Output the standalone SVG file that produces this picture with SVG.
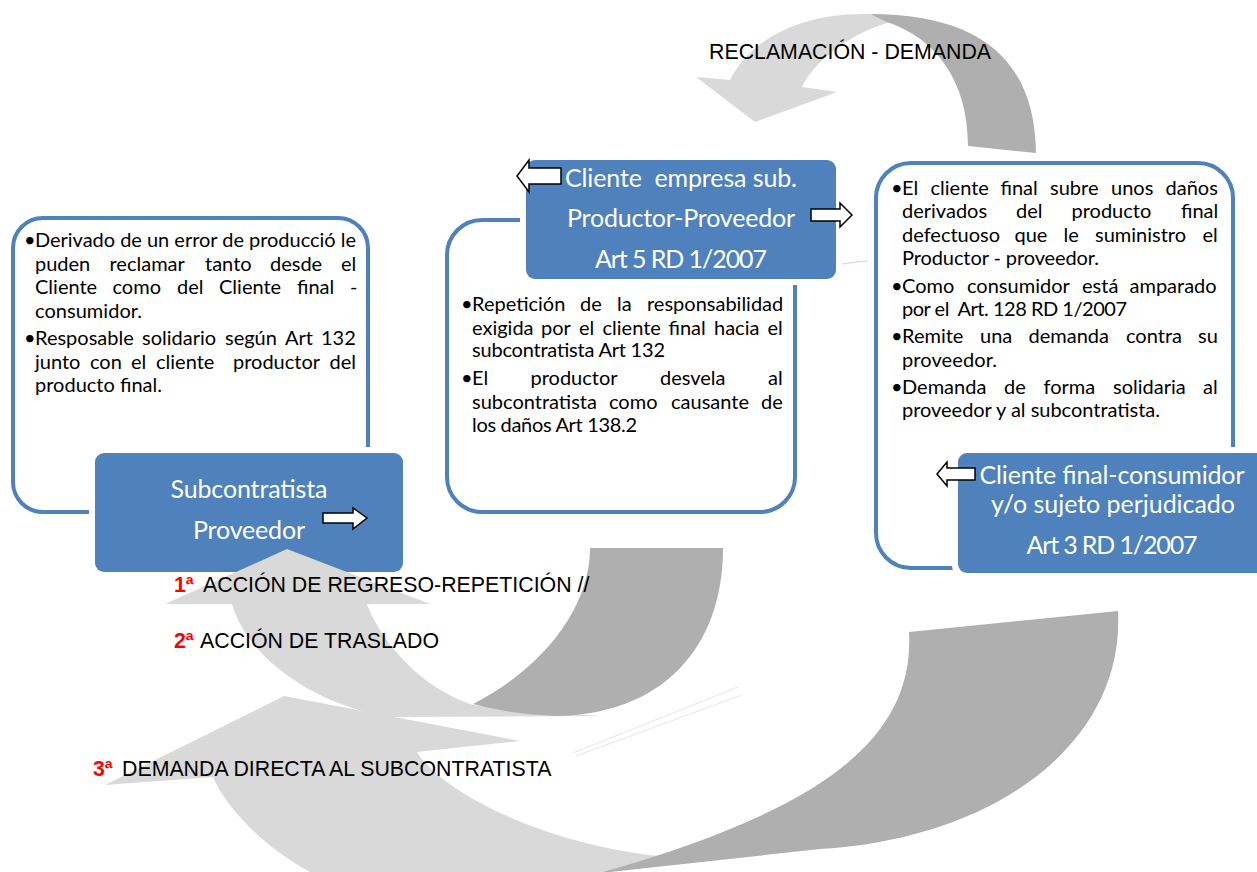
<svg xmlns="http://www.w3.org/2000/svg" width="1257" height="872" viewBox="0 0 1257 872">
<style>
.outline{fill:#fff;stroke:#4F81BD;stroke-width:4}
.fill{fill:#4F81BD}
.gap{fill:#fff}
.b{font-family:Lato,"Open Sans",sans-serif;font-size:20px;fill:#000}
.t{font-family:Lato,"Open Sans",sans-serif;font-size:25px;fill:#fff;text-anchor:middle;white-space:pre}
.wa{fill:#fff;stroke:#000;stroke-width:1.5}
.lt{fill:#D9D9D9}
.dk{fill:#AFAFAF}
.lbl{font-family:"Liberation Sans",Arial,sans-serif;font-size:21.33px;fill:#000}
.num{fill:#FF0000;font-weight:bold}
.faint{fill:none;stroke:#E4E6EE;stroke-width:1}
</style>
<rect width="1257" height="872" fill="#fff"/>

<g id="node-subcontratista">
<rect class="outline" x="13" y="218" width="355" height="294" rx="30"/>
<rect class="gap" x="89" y="447" width="320" height="131" rx="14"/>
<rect class="fill" x="95" y="453" width="308" height="119" rx="9"/>
<text class="t" x="249" y="498" textLength="157" lengthAdjust="spacing">Subcontratista</text>
<text class="t" x="249" y="539" textLength="112" lengthAdjust="spacing">Proveedor</text>
<path class="wa" d="M323,513 H353 V508 L367,518 L353,529 V523 H323 Z"/>
<text class="b" x="24" y="247">•</text>
<text class="b" x="24" y="345">•</text>
<text class="b" x="35" y="247" textLength="321" lengthAdjust="spacing">Derivado de un error de producció le</text>
<text class="b" y="271"><tspan x="35">puden</tspan><tspan x="109.5">reclamar</tspan><tspan x="205">tanto</tspan><tspan x="270">desde</tspan><tspan x="341">el</tspan></text>
<text class="b" y="294"><tspan x="35">Cliente</tspan><tspan x="112.5">como</tspan><tspan x="177">del</tspan><tspan x="219">Cliente</tspan><tspan x="297">final</tspan><tspan x="350">-</tspan></text>
<text class="b" x="35" y="318" textLength="107" lengthAdjust="spacing">consumidor.</text>
<text class="b" y="345"><tspan x="35">Resposable</tspan><tspan x="142">solidario</tspan><tspan x="225">según</tspan><tspan x="285">Art</tspan><tspan x="321">132</tspan></text>
<text class="b" y="369"><tspan x="35">junto</tspan><tspan x="90">con</tspan><tspan x="131">el</tspan><tspan x="156">cliente</tspan><tspan x="233">productor</tspan><tspan x="329.5">del</tspan></text>
<text class="b" x="35" y="392" textLength="127" lengthAdjust="spacing">producto final.</text>
</g>

<g id="node-cliente-empresa">
<rect class="outline" x="447" y="220" width="348" height="292" rx="35"/>
<rect class="gap" x="520" y="154" width="322" height="131" rx="14"/>
<rect class="fill" x="526" y="160" width="310" height="119" rx="9"/>
<text class="t" x="681" y="187" textLength="232" lengthAdjust="spacing">Cliente  empresa sub.</text>
<text class="t" x="681" y="227" textLength="228" lengthAdjust="spacing">Productor-Proveedor</text>
<text class="t" x="681" y="268" textLength="172" lengthAdjust="spacing">Art 5 RD 1/2007</text>
<path class="wa" d="M561,168 H529 V160 L517,176 L529,192 V184 H561 Z"/>
<path class="wa" d="M811,209 H840 V203 L852,215 L840,227 V221 H811 Z"/>
<path d="M842,264 Q855,262 868,261" fill="none" stroke="#C9D5E6" stroke-width="1"/>
<text class="b" x="461" y="311">•</text>
<text class="b" x="461" y="385">•</text>
<text class="b" y="311"><tspan x="472">Repetición</tspan><tspan x="580">de</tspan><tspan x="617">la</tspan><tspan x="647">responsabilidad</tspan></text>
<text class="b" y="335"><tspan x="472">exigida</tspan><tspan x="541">por</tspan><tspan x="579">el</tspan><tspan x="602.5">cliente</tspan><tspan x="668.5">final</tspan><tspan x="714">hacia</tspan><tspan x="767.5">el</tspan></text>
<text class="b" x="472" y="357" textLength="193" lengthAdjust="spacing">subcontratista Art 132</text>
<text class="b" y="385"><tspan x="472">El</tspan><tspan x="530.5">productor</tspan><tspan x="660">desvela</tspan><tspan x="768">al</tspan></text>
<text class="b" y="409"><tspan x="472">subcontratista</tspan><tspan x="609">como</tspan><tspan x="671">causante</tspan><tspan x="761">de</tspan></text>
<text class="b" x="472" y="432" textLength="165" lengthAdjust="spacing">los daños Art 138.2</text>
</g>

<g id="node-cliente-final">
<rect class="outline" x="876" y="163" width="357" height="405" rx="35"/>
<rect class="gap" x="952" y="447" width="330" height="132" rx="14"/>
<rect class="fill" x="958" y="453" width="320" height="120" rx="9"/>
<text class="t" x="1112" y="484" textLength="265" lengthAdjust="spacing">Cliente final-consumidor</text>
<text class="t" x="1113" y="513" textLength="244" lengthAdjust="spacing">y/o sujeto perjudicado</text>
<text class="t" x="1112" y="554" textLength="171" lengthAdjust="spacing">Art 3 RD 1/2007</text>
<path class="wa" d="M975,468 H947 V462 L937,474 L947,486 V480 H975 Z"/>
<text class="b" x="891" y="195">•</text>
<text class="b" x="891" y="293">•</text>
<text class="b" x="891" y="343">•</text>
<text class="b" x="891" y="394">•</text>
<text class="b" y="195"><tspan x="902">El</tspan><tspan x="930.5">cliente</tspan><tspan x="1000.5">final</tspan><tspan x="1050">subre</tspan><tspan x="1111">unos</tspan><tspan x="1165.5">daños</tspan></text>
<text class="b" y="218"><tspan x="902">derivados</tspan><tspan x="1016">del</tspan><tspan x="1071.5">producto</tspan><tspan x="1181">final</tspan></text>
<text class="b" y="242"><tspan x="902">defectuoso</tspan><tspan x="1014.5">que</tspan><tspan x="1063.5">le</tspan><tspan x="1095">suministro</tspan><tspan x="1202.5">el</tspan></text>
<text class="b" x="902" y="265" textLength="197" lengthAdjust="spacing">Productor - proveedor.</text>
<text class="b" y="293"><tspan x="902">Como</tspan><tspan x="967">consumidor</tspan><tspan x="1082">está</tspan><tspan x="1129.5">amparado</tspan></text>
<text class="b" x="902" y="316" textLength="225" lengthAdjust="spacing" style="white-space:pre">por el  Art. 128 RD 1/2007</text>
<text class="b" y="343"><tspan x="902">Remite</tspan><tspan x="980">una</tspan><tspan x="1028.5">demanda</tspan><tspan x="1126">contra</tspan><tspan x="1198">su</tspan></text>
<text class="b" x="902" y="367" textLength="95" lengthAdjust="spacing">proveedor.</text>
<text class="b" y="394"><tspan x="902">Demanda</tspan><tspan x="1004">de</tspan><tspan x="1043.5">forma</tspan><tspan x="1113">solidaria</tspan><tspan x="1203">al</tspan></text>
<text class="b" x="902" y="417" textLength="258" lengthAdjust="spacing">proveedor y al subcontratista.</text>
</g>

<g id="connectors">
<path class="lt" d="M696,77 L755,122 L837,92 L802,87 C812,65 845,35 890,22 L870,14 C800,12 750,40 730,80 Z"/>
<path class="dk" d="M870,14 C980,14 1035,60 1036,153 L968,146 C968,80 935,38 887,22 Z"/>
<path class="lt" d="M287,549 L430,604 L367,604 C382,645 425,690 473,705 L600,716 L387,717 C300,700 245,650 232,604 L165,604 Z"/>
<path class="dk" d="M590,548 L723,548 C723,650 660,715 555,716 Q510,714 473,704 C540,670 590,610 590,548 Z"/>
<path class="lt" d="M284,696 L520,741 L417,752 C440,790 540,845 668,857 L605,872 L310,872 C260,845 225,805 213,777 L105,785 Z"/>
<path class="dk" d="M909,632 L1118,611 C1125,740 1000,838 820,849 L610,872 L603,872 C820,810 915,740 909,632 Z"/>
<path class="faint" d="M573,753 L738,687"/>
<path class="faint" d="M576,756 L742,695"/>
</g>

<g id="labels">
<text class="lbl" x="709" y="59">RECLAMACIÓN - DEMANDA</text>
<text class="lbl" y="592"><tspan class="num" x="174">1ª</tspan><tspan x="203">ACCIÓN DE REGRESO-REPETICIÓN //</tspan></text>
<text class="lbl" y="648"><tspan class="num" x="174">2ª</tspan><tspan x="200">ACCIÓN DE TRASLADO</tspan></text>
<text class="lbl" y="776"><tspan class="num" x="93">3ª</tspan><tspan x="122">DEMANDA DIRECTA AL SUBCONTRATISTA</tspan></text>
</g>
</svg>
